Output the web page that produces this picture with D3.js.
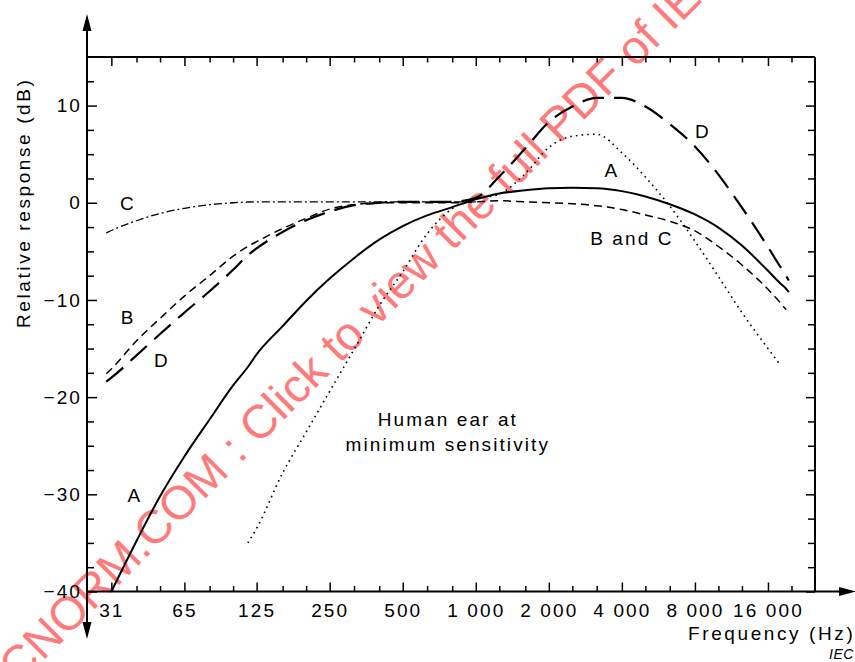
<!DOCTYPE html>
<html>
<head>
<meta charset="utf-8">
<script src="https://cdn.jsdelivr.net/npm/d3@7"></script>
<style>
  body { margin: 0; background: #fff; }
  svg { display: block; font-family: "Liberation Sans", Arial, Helvetica, sans-serif; }
  text { letter-spacing: 2.1px; fill: #000; }
</style>
</head>
<body>
<svg id="chart" width="855" height="662"></svg>
<script>
"use strict";

// frequency grid the curves are sampled on (Hz)
const freqs = [30, 31.5, 40, 50, 63, 80, 100, 115, 125, 160, 200, 250, 315, 400, 500, 630, 800,
    1000, 1250, 1600, 2000, 2500, 3150, 4000, 5000, 6300, 8000, 10000, 12500, 16000, 18000, 19000, 19500];

// relative response (dB) at each grid frequency, null where a curve is not drawn
const weightA = [null, -40, -34.8, -30.2, -26.1, -22.3, -18.8, -16.9, -15.6, -12.7, -10.1, -7.8, -5.7, -3.8, -2.4, -1.3, -0.45,
    0.35, 0.95, 1.3, 1.5, 1.55, 1.5, 1.2, 0.65, -0.15, -1.2, -2.55, -4.4, -7.0, -8.3, -8.85, -9.2];
const weightB = [-17.6, -17.1, -14.2, -11.9, -9.6, -7.5, -5.5, -4.5, -4.0, -2.65, -1.6, -0.65, -0.2, 0, 0, 0, 0,
    0.1, 0.2, 0.1, 0, -0.1, -0.3, -0.7, -1.25, -1.9, -2.9, -4.5, -6.4, -8.9, -10.3, -11.0, null];
const weightC = [-3.1, -2.85, -1.85, -1.1, -0.57, -0.2, 0, 0.08, 0.1, 0.1, 0.1, 0.1, 0.1, 0.1, 0.1, 0.1, 0.1,
    0.1, null, null, null, null, null, null, null, null, null, null, null, null, null, null, null];
const weightD = [-18.4, -18.0, -15.7, -13.5, -11.3, -9.1, -6.9, -5.4, -4.7, -3.0, -1.8, -0.9, -0.25, 0, 0.1, 0.1, 0.1,
    0.5, 2.7, 5.6, 8.3, 9.9, 10.8, 10.8, 9.9, 8.1, 5.8, 2.9, -0.5, -4.55, -6.6, -7.5, -8.0];
const earMin = [null, null, null, null, null, null, null, -35.0, -33.5, -27.8, -23.6, -19.4, -15.1, -10.6, -7.1, -3.2, -0.6,
    0.4, 0.9, 3.0, 5.7, 6.85, 7.05, 5.15, 2.65, -0.35, -3.95, -7.6, -11.3, -15.0, -16.7, null, null];

// axis ticks
const octaveTicks = [31.5, 63, 125, 250, 500, 1000, 2000, 4000, 8000, 16000];
const octaveLabels = ["31", "65", "125", "250", "500", "1 000", "2 000", "4 000", "8 000", "16 000"];
const thirdTicks = [40, 50, 80, 100, 160, 200, 315, 400, 630, 800, 1250, 1600, 2500, 3150, 5000, 6300, 10000, 12500, 20000];
const dbTicks = [-40, -30, -20, -10, 0, 10];
const dbLabels = ["\u221240", "\u221230", "\u221220", "\u221210", "0", "10"];
const dbMinorTicks = [-37.5, -35, -32.5, -27.5, -25, -22.5, -17.5, -15, -12.5, -7.5, -5, -2.5, 2.5, 5, 7.5, 12.5];

// curve labels, placed in data space [Hz, dB]
const curveLabels = [
    {text: "C", f: 36.9, db: -0.1},
    {text: "B", f: 36.9, db: -11.8},
    {text: "D", f: 50.9, db: -16.2},
    {text: "A", f: 39.4, db: -30.1},
    {text: "A", f: 3640, db: 3.3},
    {text: "D", f: 8640, db: 7.4},
    {text: "B and C", f: 4400, db: -3.7}
];
const earLabel = {lines: ["Human ear at", "minimum sensitivity"], f: 767, db: -22.3};

const frame = {left: 87, right: 815, top: 57, bottom: 591.5};

const svg = d3.select('#chart');

const x = d3.scaleLog()
    .domain([25, 25000])
    .range([frame.left, frame.right]);
const y = d3.scaleLinear()
    .domain([-40, 15])
    .range([frame.bottom, frame.top]);

// watermark goes underneath everything
svg.append('text')
    .attr('transform', 'translate(-13,717) rotate(-45)')
    .style('font-size', '47px')
    .style('letter-spacing', '0px')
    .style('fill', '#ff7a7a')
    .text('IECNORM.COM : Click to view the full PDF of IEC');

// ticks, all pointing into the plot
function styleTicks(g) {
    g.select('.domain').remove();
    g.selectAll('.tick line').attr('stroke', '#000').attr('stroke-width', 1.5);
    g.selectAll('.tick text')
        .style('font-size', '19px')
        .style('font-family', '"Liberation Sans", Arial, sans-serif')
        .attr('fill', '#000');
}

svg.append('g')
    .attr('transform', `translate(0,${frame.bottom})`)
    .call(d3.axisBottom(x).tickValues(octaveTicks).tickSizeInner(-9).tickSizeOuter(0)
        .tickPadding(12).tickFormat((d, i) => octaveLabels[i]))
    .call(styleTicks);
svg.append('g')
    .attr('transform', `translate(0,${frame.bottom})`)
    .call(d3.axisBottom(x).tickValues(thirdTicks).tickSizeInner(-5.5).tickSizeOuter(0).tickFormat(''))
    .call(styleTicks);
svg.append('g')
    .attr('transform', `translate(0,${frame.top})`)
    .call(d3.axisTop(x).tickValues(octaveTicks).tickSizeInner(-9).tickSizeOuter(0).tickFormat(''))
    .call(styleTicks);
svg.append('g')
    .attr('transform', `translate(0,${frame.top})`)
    .call(d3.axisTop(x).tickValues(thirdTicks).tickSizeInner(-5.5).tickSizeOuter(0).tickFormat(''))
    .call(styleTicks);

svg.append('g')
    .attr('transform', `translate(${frame.left},0)`)
    .call(d3.axisLeft(y).tickValues(dbTicks).tickSizeInner(-10).tickSizeOuter(0)
        .tickPadding(5).tickFormat((d, i) => dbLabels[i]))
    .call(styleTicks);
svg.append('g')
    .attr('transform', `translate(${frame.left},0)`)
    .call(d3.axisLeft(y).tickValues(dbMinorTicks).tickSizeInner(-7).tickSizeOuter(0).tickFormat(''))
    .call(styleTicks);
svg.append('g')
    .attr('transform', `translate(${frame.right},0)`)
    .call(d3.axisRight(y).tickValues(dbTicks).tickSizeInner(-9).tickSizeOuter(0).tickFormat(''))
    .call(styleTicks);
svg.append('g')
    .attr('transform', `translate(${frame.right},0)`)
    .call(d3.axisRight(y).tickValues(dbMinorTicks).tickSizeInner(-7).tickSizeOuter(0).tickFormat(''))
    .call(styleTicks);

// frame plus the arrowed axes
const axisLines = [
    [[frame.left, 30], [frame.left, 623]],
    [[frame.left, frame.bottom], [840, frame.bottom]],
    [[frame.left, frame.top], [frame.right, frame.top]],
    [[frame.right, frame.top], [frame.right, frame.bottom]]
];
svg.append('g')
    .selectAll('path')
    .data(axisLines)
    .join('path')
    .attr('d', d => d3.line()(d))
    .attr('stroke', '#000')
    .attr('stroke-width', 2)
    .attr('fill', 'none');

const arrows = [
    [[frame.left, 14], [frame.left - 4.5, 31], [frame.left + 4.5, 31]],
    [[frame.left, 639], [frame.left - 4.5, 622], [frame.left + 4.5, 622]],
    [[856, frame.bottom], [839, frame.bottom - 4.5], [839, frame.bottom + 4.5]]
];
svg.append('g')
    .selectAll('path')
    .data(arrows)
    .join('path')
    .attr('d', d => d3.line()(d) + 'Z')
    .attr('fill', '#000');

// curves
const series = [
    {values: weightC, dash: '8,3,2,3', width: 1.3},
    {values: weightB, dash: '8,5', width: 1.5},
    {values: weightD, dash: '22,10', width: 2.2},
    {values: earMin, dash: '1.6,4.1', width: 1.6},
    {values: weightA, dash: null, width: 2}
];

const line = d3.line()
    .defined(d => d[1] != null)
    .x(d => x(d[0]))
    .y(d => y(d[1]))
    .curve(d3.curveMonotoneX);

svg.append('g')
    .selectAll('path')
    .data(series)
    .join('path')
    .attr('d', s => line(freqs.map((f, i) => [f, s.values[i]])))
    .attr('fill', 'none')
    .attr('stroke', '#000')
    .attr('stroke-width', s => s.width)
    .attr('stroke-dasharray', s => s.dash);

// labels
svg.append('g')
    .selectAll('text')
    .data(curveLabels)
    .join('text')
    .attr('x', d => x(d.f))
    .attr('y', d => y(d.db))
    .attr('dy', '0.35em')
    .attr('text-anchor', 'middle')
    .style('font-size', '19px')
    .text(d => d.text);

svg.append('text')
    .attr('x', x(earLabel.f))
    .attr('y', y(earLabel.db))
    .attr('text-anchor', 'middle')
    .style('font-size', '19px')
    .selectAll('tspan')
    .data(earLabel.lines)
    .join('tspan')
    .attr('x', x(earLabel.f))
    .attr('dy', (d, i) => i == 0 ? '0.35em' : '1.3em')
    .text(d => d);

svg.append('text')
    .attr('transform', `translate(29.5,${y(0)}) rotate(-90)`)
    .attr('text-anchor', 'middle')
    .style('font-size', '19px')
    .style('letter-spacing', '2.6px')
    .text('Relative response  (dB)');

svg.append('text')
    .attr('x', 688)
    .attr('y', 640)
    .style('font-size', '19px')
    .style('letter-spacing', '2.6px')
    .text('Frequency  (Hz)');

svg.append('text')
    .attr('x', 829)
    .attr('y', 659)
    .style('font-size', '14px')
    .style('font-style', 'italic')
    .style('letter-spacing', '0.5px')
    .text('IEC');
</script>
</body>
</html>
